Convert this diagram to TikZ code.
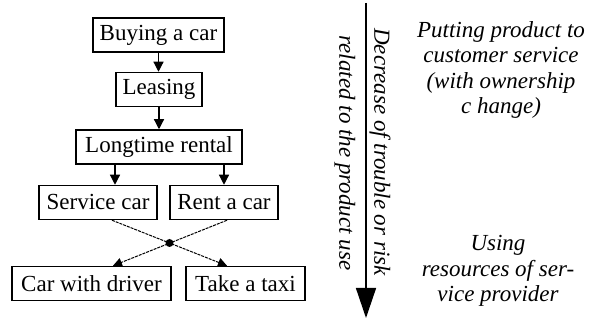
\documentclass[tikz,border=0pt]{standalone}
\usepackage{fontspec}
\setmainfont{Liberation Serif}
\usetikzlibrary{arrows.meta}

\begin{document}
\begin{tikzpicture}[x=1pt,y=1pt,
  stage/.style={draw,line width=1.5pt,inner sep=0pt,minimum height=34pt,
    font=\fontsize{23}{26}\selectfont},
  arr/.style={line width=1.2pt,-{Triangle[width=10pt,length=10pt]}},
  swap/.style={line width=1pt,dash pattern=on 3pt off 1pt,
    -{Triangle[width=9pt,length=9pt]}},
  hub/.style={fill,circle,inner sep=0pt,minimum size=8pt},
  note/.style={align=center,font=\itshape\fontsize{23}{25.5}\selectfont},
  side/.style={rotate=-90,inner sep=0pt,font=\itshape\fontsize{23}{26}\selectfont}]
\path[use as bounding box] (0,0) rectangle (589,320);
% left: ways of using a car
\node[stage,minimum width=131pt] (buy) at (158.5,285) {Buying a car};
\node[stage,minimum width=86pt] (lease) at (159,230.5) {Leasing};
\node[stage,minimum width=166pt] (rental) at (159,173) {Longtime rental};
\node[stage,minimum width=118pt] (service) at (98,117.5) {Service car};
\node[stage,minimum width=108pt] (rent) at (224,117.5) {Rent a car};
\node[stage,minimum width=159pt] (driver) at (91.5,36.5) {Car with driver};
\node[stage,minimum width=119pt] (taxi) at (245.5,36.5) {Take a taxi};
\draw[arr] (buy.south) -- (buy.south |- lease.north);
\draw[arr] (lease.south) -- (lease.south |- rental.north);
\draw[arr] ([xshift=17pt]service.north |- rental.south) -- ([xshift=17pt]service.north);
\draw[arr] (rent.north |- rental.south) -- (rent.north);
\draw[swap] ([xshift=14pt]service.south) -- node[hub] (mid) {} ([xshift=-18.5pt]taxi.north);
\draw[swap] ([xshift=3pt]rent.south) -- ([xshift=21.5pt]driver.north);
% right: axis and notes
\coordinate (axtop) at (366,317);
\coordinate (axbot) at (366,2);
\draw[line width=1.5pt,-{Triangle[width=20pt,length=30pt]}] (axtop) -- (axbot);
\node[side] (trouble) at (380,168) {Decrease of trouble or risk};
\node[side] (use) at (345,167) {related to the product use};
\node[note] (owner) at (501,250) {Putting product to\\customer service\\(with ownership\\c hange)};
\node[note] (provider) at (498,49) {Using\\resources of ser-\\vice provider};
\end{tikzpicture}
\end{document}
